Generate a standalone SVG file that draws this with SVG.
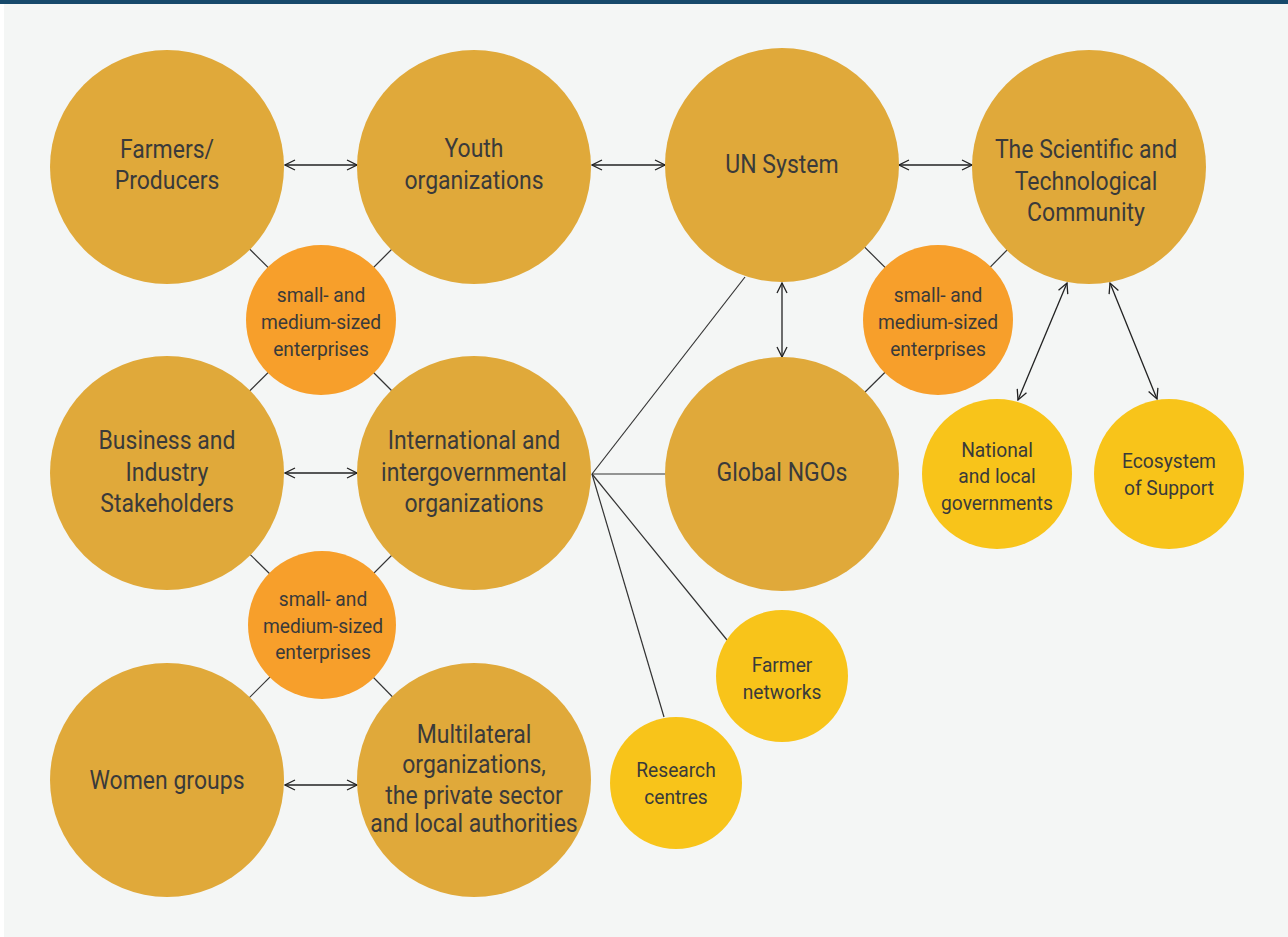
<svg xmlns="http://www.w3.org/2000/svg" width="1288" height="937" viewBox="0 0 1288 937">
<style>
.big{fill:#E0A93A}
.org{fill:#F79F2B}
.yel{fill:#F8C41A}
.t{font-family:Roboto,"Liberation Sans",sans-serif;fill:#3a3a3a;text-anchor:middle}
.tl{font-size:25px}
.ts{font-size:20px}
.ln{stroke:#333;stroke-width:1.2;fill:none}
.ar{stroke:#222;stroke-width:1.3;fill:none;marker-start:url(#ah);marker-end:url(#ah)}
</style>
<defs>
<marker id="ah" viewBox="0 0 12 12" refX="11" refY="6" markerWidth="12" markerHeight="12" markerUnits="userSpaceOnUse" orient="auto-start-reverse">
<path d="M1,1 L11,6 L1,11" fill="none" stroke="#222" stroke-width="1.3"/>
</marker>
</defs>
<rect width="1288" height="937" fill="#ffffff"/>
<rect x="4" y="4" width="1284" height="933" fill="#F4F6F5"/>
<rect x="0" y="0" width="1288" height="4" fill="#17496B"/>
<g id="connectors">
<line class="ln" x1="167" y1="167" x2="321" y2="320"/>
<line class="ln" x1="474" y1="167" x2="321" y2="320"/>
<line class="ln" x1="167" y1="473" x2="321" y2="320"/>
<line class="ln" x1="474" y1="473" x2="321" y2="320"/>
<line class="ln" x1="167" y1="473" x2="322" y2="625"/>
<line class="ln" x1="474" y1="473" x2="322" y2="625"/>
<line class="ln" x1="167" y1="780" x2="322" y2="625"/>
<line class="ln" x1="474" y1="780" x2="322" y2="625"/>
<line class="ln" x1="782" y1="165" x2="938" y2="320"/>
<line class="ln" x1="1089" y1="167" x2="938" y2="320"/>
<line class="ln" x1="782" y1="474" x2="938" y2="320"/>
<line class="ln" x1="592" y1="474" x2="745" y2="277"/>
<line class="ln" x1="592" y1="474" x2="665" y2="474"/>
<line class="ln" x1="592" y1="474" x2="727" y2="640"/>
<line class="ln" x1="592" y1="474" x2="664" y2="717"/>
<line class="ar" x1="285" y1="165" x2="357" y2="165"/>
<line class="ar" x1="592" y1="165" x2="665" y2="165"/>
<line class="ar" x1="899" y1="165" x2="972" y2="165"/>
<line class="ar" x1="285" y1="473" x2="357" y2="473"/>
<line class="ar" x1="285" y1="785" x2="357" y2="785"/>
<line class="ar" x1="782" y1="283" x2="782" y2="357"/>
<line class="ar" x1="1067" y1="283" x2="1018" y2="400"/>
<line class="ar" x1="1110" y1="283" x2="1157" y2="399"/>
</g>
<g id="farmers"><circle class="big" cx="167" cy="167" r="117"/><text class="t tl" transform="translate(167,158) scale(0.92,1)">Farmers/</text><text class="t tl" transform="translate(167,189) scale(0.92,1)">Producers</text></g>
<g id="youth"><circle class="big" cx="474" cy="167" r="117"/><text class="t tl" transform="translate(474,157) scale(0.92,1)">Youth</text><text class="t tl" transform="translate(474,189) scale(0.92,1)">organizations</text></g>
<g id="un"><circle class="big" cx="782" cy="165" r="117"/><text class="t tl" transform="translate(782,173) scale(0.92,1)">UN System</text></g>
<g id="scientific"><circle class="big" cx="1089" cy="167" r="117"/><text class="t tl" transform="translate(1086,158) scale(0.92,1)">The Scientific and</text><text class="t tl" transform="translate(1086,190) scale(0.92,1)">Technological</text><text class="t tl" transform="translate(1086,221) scale(0.92,1)">Community</text></g>
<g id="business"><circle class="big" cx="167" cy="473" r="117"/><text class="t tl" transform="translate(167,449) scale(0.92,1)">Business and</text><text class="t tl" transform="translate(167,481) scale(0.92,1)">Industry</text><text class="t tl" transform="translate(167,512) scale(0.92,1)">Stakeholders</text></g>
<g id="international"><circle class="big" cx="474" cy="473" r="117"/><text class="t tl" transform="translate(474,449) scale(0.92,1)">International and</text><text class="t tl" transform="translate(474,481) scale(0.92,1)">intergovernmental</text><text class="t tl" transform="translate(474,512) scale(0.92,1)">organizations</text></g>
<g id="ngos"><circle class="big" cx="782" cy="474" r="117"/><text class="t tl" transform="translate(782,481) scale(0.92,1)">Global NGOs</text></g>
<g id="women"><circle class="big" cx="167" cy="780" r="117"/><text class="t tl" transform="translate(167,789) scale(0.92,1)">Women groups</text></g>
<g id="multilateral"><circle class="big" cx="474" cy="780" r="117"/><text class="t tl" transform="translate(474,743) scale(0.92,1)">Multilateral</text><text class="t tl" transform="translate(474,773) scale(0.92,1)">organizations,</text><text class="t tl" transform="translate(474,804) scale(0.92,1)">the private sector</text><text class="t tl" transform="translate(474,832) scale(0.92,1)">and local authorities</text></g>
<g id="sme1"><circle class="org" cx="321" cy="320" r="75"/><text class="t ts" transform="translate(321,302) scale(0.96,1)">small- and</text><text class="t ts" transform="translate(321,329) scale(0.96,1)">medium-sized</text><text class="t ts" transform="translate(321,356) scale(0.96,1)">enterprises</text></g>
<g id="sme2"><circle class="org" cx="322" cy="625" r="74"/><text class="t ts" transform="translate(323,606) scale(0.96,1)">small- and</text><text class="t ts" transform="translate(323,633) scale(0.96,1)">medium-sized</text><text class="t ts" transform="translate(323,659) scale(0.96,1)">enterprises</text></g>
<g id="sme3"><circle class="org" cx="938" cy="320" r="75"/><text class="t ts" transform="translate(938,302) scale(0.96,1)">small- and</text><text class="t ts" transform="translate(938,329) scale(0.96,1)">medium-sized</text><text class="t ts" transform="translate(938,356) scale(0.96,1)">enterprises</text></g>
<g id="national"><circle class="yel" cx="997" cy="474" r="75"/><text class="t ts" transform="translate(997,457) scale(0.96,1)">National</text><text class="t ts" transform="translate(997,483) scale(0.96,1)">and local</text><text class="t ts" transform="translate(997,510) scale(0.96,1)">governments</text></g>
<g id="ecosystem"><circle class="yel" cx="1169" cy="474" r="75"/><text class="t ts" transform="translate(1169,468) scale(0.96,1)">Ecosystem</text><text class="t ts" transform="translate(1169,495) scale(0.96,1)">of Support</text></g>
<g id="farmernetworks"><circle class="yel" cx="782" cy="676" r="66"/><text class="t ts" transform="translate(782,672) scale(0.96,1)">Farmer</text><text class="t ts" transform="translate(782,699) scale(0.96,1)">networks</text></g>
<g id="research"><circle class="yel" cx="676" cy="783" r="66"/><text class="t ts" transform="translate(676,777) scale(0.96,1)">Research</text><text class="t ts" transform="translate(676,804) scale(0.96,1)">centres</text></g>
</svg>
